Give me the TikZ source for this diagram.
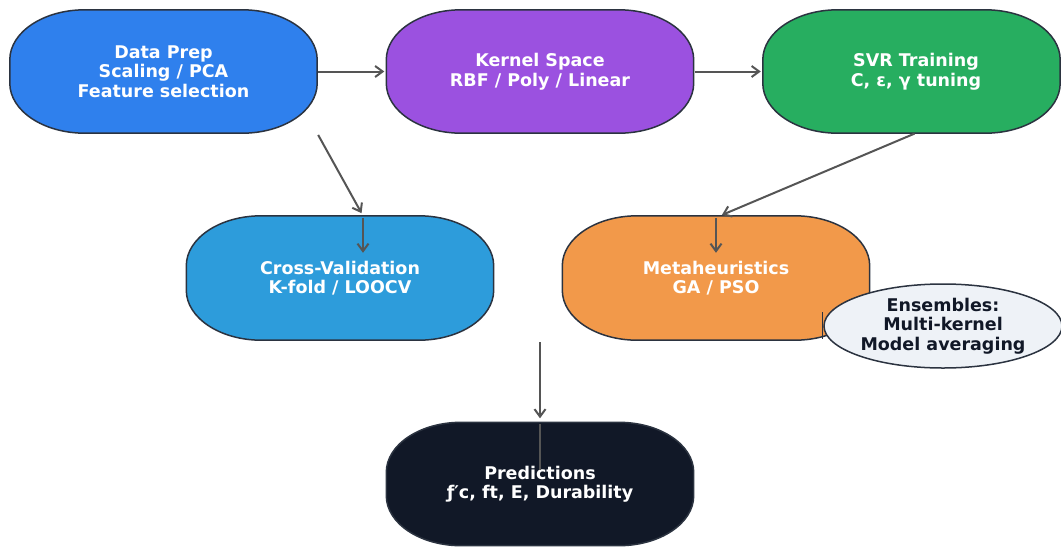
\documentclass[tikz,border=0pt]{standalone}
\usepackage{fontspec}
\setmainfont{DejaVu Sans}
\usetikzlibrary{arrows.meta,shapes.geometric,backgrounds}
\definecolor{cDP}{HTML}{2F80ED}
\definecolor{cKS}{HTML}{9B51E0}
\definecolor{cSVR}{HTML}{27AE60}
\definecolor{cCV}{HTML}{2D9CDB}
\definecolor{cMH}{HTML}{F2994A}
\definecolor{cPR}{HTML}{111827}
\definecolor{cEN}{HTML}{EEF2F7}
\definecolor{cEdge}{HTML}{2B3340}
\definecolor{cArr}{HTML}{555555}
\def\pillrx{75pt}\def\pillcx{33.6pt}\def\pillry{50pt}\def\pillcy{22.4pt}
\newcommand\pill[2]{%
 \filldraw[pillline,fill=#2] ([xshift=\pillrx]#1.north west) -- ([xshift=-\pillrx]#1.north east)
   .. controls ([xshift=-\pillcx]#1.north east) and ([yshift=-\pillcy]#1.north east) .. ([yshift=-\pillry]#1.north east)
   -- ([yshift=\pillry]#1.south east)
   .. controls ([yshift=\pillcy]#1.south east) and ([xshift=-\pillcx]#1.south east) .. ([xshift=-\pillrx]#1.south east)
   -- ([xshift=\pillrx]#1.south west)
   .. controls ([xshift=\pillcx]#1.south west) and ([yshift=\pillcy]#1.south west) .. ([yshift=\pillry]#1.south west)
   -- ([yshift=-\pillry]#1.north west)
   .. controls ([yshift=-\pillcy]#1.north west) and ([xshift=\pillcx]#1.north west) .. cycle;}
\tikzset{
  x=1pt,y=1pt,
  pillline/.style={draw=cEdge,line width=1.5pt},
  boxtext/.style={rectangle,inner sep=0pt,minimum height=123pt,text=white,align=center,
     font=\bfseries\fontsize{17.5}{19.5}\selectfont},
  arr/.style={draw=cArr,line width=2pt,-{Straight Barb[length=7.5pt,width=11pt]}},
  plain/.style={draw=cArr,line width=2pt},
  tick/.style={draw=cEdge,line width=1.4pt},
}
\begin{document}
\begin{tikzpicture}
\useasboundingbox (0,0) rectangle (1061,-547);
\node[boxtext,minimum width=307pt] (dp) at (163.5,-71.5) {Data Prep\\Scaling / PCA\\Feature selection};
\node[boxtext,minimum width=307pt] (ks) at (540,-71.5) {Kernel Space\\RBF / Poly / Linear};
\node[boxtext,minimum width=297pt] (svr) at (911.5,-71.5) {\hspace*{9pt}SVR Training\\\hspace*{9pt}C, ε, γ tuning};
\node[boxtext,minimum width=307pt,minimum height=124pt] (cv) at (340,-278) {Cross-Validation\\K-fold / LOOCV};
\node[boxtext,minimum width=307pt,minimum height=124pt] (mh) at (716,-278) {Metaheuristics\\GA / PSO};
\node[boxtext,minimum width=307pt] (pr) at (540,-484) {Predictions\\ƒ′c, ft, E, Durability};
\begin{scope}[on background layer]
\pill{dp}{cDP}
\pill{ks}{cKS}
\pill{svr}{cSVR}
\pill{cv}{cCV}
\pill{mh}{cMH}
\pill{pr}{cPR}
\end{scope}
\node[ellipse,draw=cEdge,line width=1.5pt,fill=cEN,minimum width=238pt,minimum height=84pt,inner sep=0pt,
  text=cPR,align=center,font=\bfseries\fontsize{17.5}{19.5}\selectfont] (en) at (943,-326) {Ensembles:\\Multi-kernel\\Model averaging};
% connectors
\draw[arr,shorten <=1pt,shorten >=2pt] (dp.east) -- (ks.west);
\draw[arr,shorten <=1pt,shorten >=2pt] (ks.east) -- (svr.west);
\coordinate (cvtop) at ([xshift=23pt]cv.north);
\draw[arr,shorten <=2pt,shorten >=3pt] (dp.south east) -- (cvtop);
\draw[arr,shorten <=2pt] (cvtop) -- ++(0,-37);
\coordinate (mhtop) at ([xshift=4pt]mh.north);
\draw[arr,shorten <=1pt,shorten >=2pt] ([xshift=4pt]svr.south) -- (mhtop);
\draw[arr,shorten <=2pt] (mh.north) -- ++(0,-37);
\coordinate (mid) at (540,-342);
\draw[arr,shorten >=4pt] (mid) -- (pr.north);
\draw[plain,shorten <=2pt] (pr.north) -- ++(0,-48);
\coordinate (t1) at (822.7,-312);
\coordinate (t2) at (822.7,-339);
\draw[tick] (t1) -- (t2);
\end{tikzpicture}
\end{document}
